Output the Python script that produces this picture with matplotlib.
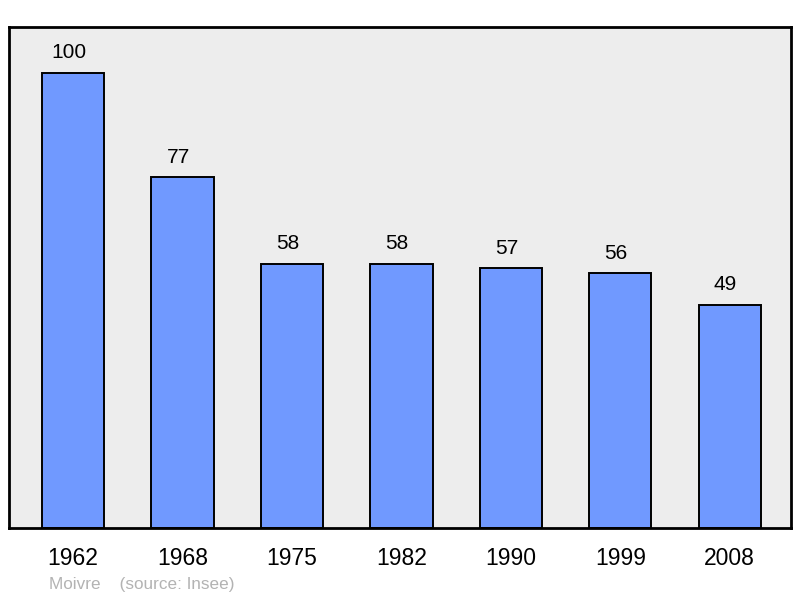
import matplotlib.pyplot as plt

years = ["1962", "1968", "1975", "1982", "1990", "1999", "2008"]
population = [100, 77, 58, 58, 57, 56, 49]

plt.rcParams['font.family'] = ['Liberation Sans', 'DejaVu Sans']

fig = plt.figure(figsize=(8, 5.98), dpi=100)
ax = fig.add_axes([9 / 800, 1 - 528 / 598, 782 / 800, 501 / 598])
ax.set_facecolor('#ededed')

x = range(len(years))
bars = ax.bar(x, population, width=0.57, color='#7099ff', edgecolor='black', linewidth=1.4)

for xi, v in zip(x, population):
    ax.annotate(str(v), (xi, v), xytext=(-3, 7.5), textcoords='offset points',
                ha='center', va='bottom', fontsize=15)

ax.set_xlim(-0.585, 6.56)
ax.set_ylim(0, 110)
ax.set_xticks(list(x))
ax.set_xticklabels(years, fontsize=16.5)
ax.tick_params(axis='x', length=0, pad=14)
ax.set_yticks([])
for s in ax.spines.values():
    s.set_linewidth(2)

fig.text(49 / 800, 1 - 584 / 598, "Moivre    (source: Insee)", fontsize=12.3,
         color='#b3b3b3', va='center', ha='left')

fig.savefig('out.png', dpi=100)
